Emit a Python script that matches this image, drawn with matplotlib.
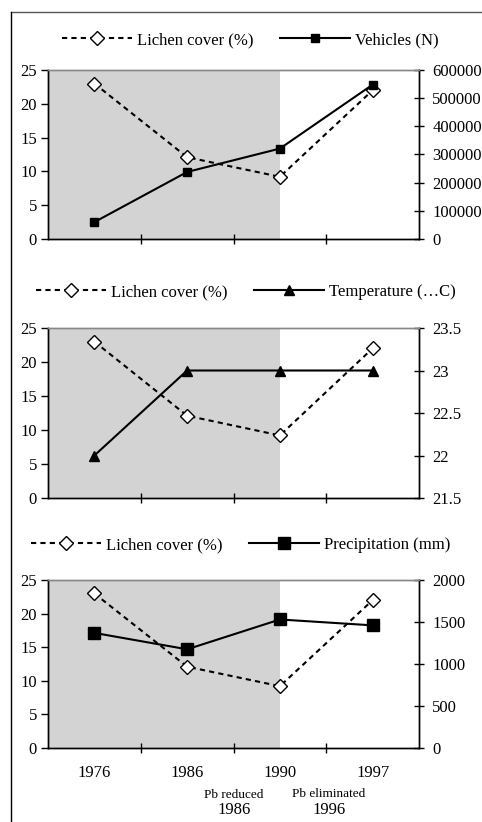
import matplotlib.pyplot as plt
from matplotlib.lines import Line2D
import numpy as np

plt.rcParams['font.family'] = ['Liberation Serif', 'DejaVu Serif']

years = ["1976", "1986", "1990", "1997"]
lichen = [23, 12.1, 9.2, 22]
vehicles = [60000, 238000, 321000, 548000]
temperature = [22, 23, 23, 23]
precipitation = [1370, 1175, 1530, 1460]

W, H = 482, 822
fig = plt.figure(figsize=(W / 100, H / 100), dpi=100)

def fy(px):
    return 1 - px / H

# frame lines around the figure
fig.add_artist(Line2D([11 / W, 1], [fy(12), fy(12)], color='#555555', lw=1))
fig.add_artist(Line2D([11 / W, 11 / W], [fy(12), 0], color='black', lw=1))

x = np.arange(len(years))
left = 48 / W
width = (419 - 48) / W

panels = [
    (70, 239, vehicles, 's', "Vehicles (N)", (0, 600000), np.arange(0, 600001, 100000), 40, 6, 0.52),
    (328, 498, temperature, '^', "Temperature (\u2026C)", (21.5, 23.5), [21.5, 22, 22.5, 23, 23.5], 292, 7, 0.51),
    (580, 748, precipitation, 's', "Precipitation (mm)", (0, 2000), [0, 500, 1000, 1500, 2000], 545, 8, 0.5),
]

for i, (top, bot, vals, mk, label, ylim2, yt2, leg_y, ms, leg_x) in enumerate(panels):
    ax = fig.add_axes([left, fy(bot), width, (bot - top) / H])
    ax.axvspan(-0.5, 2, color='#d3d3d3', lw=0, zorder=0)
    l1, = ax.plot(x, lichen, ls=(0, (2.5, 2)), color='black', lw=1.5,
                  marker='D', ms=7, mfc='white', mec='black', mew=1, zorder=3)
    ax.set_xlim(-0.5, 3.5)
    ax.set_ylim(0, 25)
    ax.set_yticks([0, 5, 10, 15, 20, 25])
    ax.set_xticks([0.5, 1.5, 2.5])
    ax.set_xticklabels([])
    ax.tick_params(axis='x', direction='inout', length=7, width=1)
    ax.tick_params(axis='y', direction='out', length=5, width=1, labelsize=12, pad=3)

    ax2 = ax.twinx()
    l2, = ax2.plot(x, vals, ls='-', color='black', lw=1.5,
                   marker=mk, ms=ms, mfc='black', mec='black')
    ax2.set_ylim(*ylim2)
    ax2.set_yticks(yt2)
    ax2.set_yticklabels([f"{v:g}" for v in yt2])
    ax2.tick_params(axis='y', direction='inout', length=7, width=1, labelsize=12, pad=6)
    for a in (ax, ax2):
        a.spines['top'].set_color('#888888')
        a.spines['top'].set_linewidth(1)
        for s in ('left', 'right', 'bottom'):
            a.spines[s].set_color('black')
            a.spines[s].set_linewidth(1)

    if i == 2:
        for xi, yr in zip(x, years):
            ax.text(xi, -0.1, yr, transform=ax.get_xaxis_transform(),
                    ha='center', va='top', fontsize=12)

    fig.legend([l1, l2], ["Lichen cover (%)", label], loc='center',
               bbox_to_anchor=(leg_x, fy(leg_y)), ncol=2, frameon=False,
               fontsize=12, handlelength=4.2, handletextpad=0.3,
               columnspacing=1.6)

fig.text(234 / W, fy(795), "Pb reduced", ha='center', va='center', fontsize=9.5)
fig.text(234 / W, fy(810), "1986", ha='center', va='center', fontsize=12)
fig.text(329 / W, fy(794), "Pb eliminated", ha='center', va='center', fontsize=9.5)
fig.text(329 / W, fy(810), "1996", ha='center', va='center', fontsize=12)

fig.savefig("out.png", dpi=100)
